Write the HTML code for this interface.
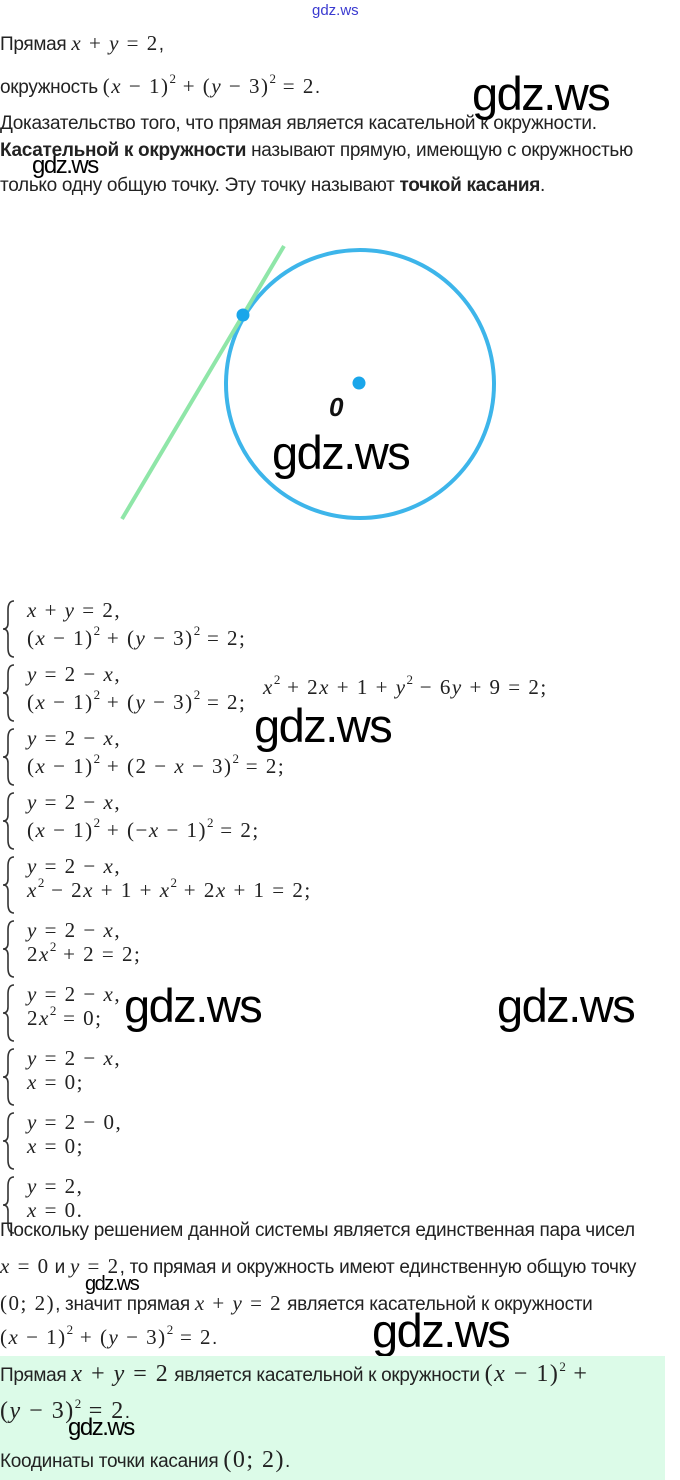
<!DOCTYPE html>
<html><head><meta charset="utf-8"><style>
body{margin:0;width:680px;height:1480px;position:relative;background:#fff;overflow:hidden;font-family:"Liberation Sans",sans-serif;color:#222}
.a{position:absolute;white-space:nowrap}
.t{font-size:19px;letter-spacing:-0.3px}
.m{font-family:"Liberation Serif",serif;font-size:21px;letter-spacing:1.5px}
.m i{font-style:italic}
sup{font-size:13px;vertical-align:10px;line-height:0;letter-spacing:0}
.w{position:absolute;font-family:"Liberation Sans",sans-serif;color:#000;white-space:nowrap;letter-spacing:-1.5px}
</style></head><body>
<div class="a" style="left:312px;top:2px;font-size:15px;color:#3a3ad0">gdz.ws</div>
<div class="a t" style="left:0;top:31px">Прямая <span class="m"><i>x</i> + <i>y</i> = 2</span>,</div>
<div class="a t" style="left:0;top:74px">окружность <span class="m">(<i>x</i> − 1)<sup>2</sup> + (<i>y</i> − 3)<sup>2</sup> = 2</span>.</div>
<div class="a t" style="left:0;top:113px">Доказательство того, что прямая является касательной к окружности.</div>
<div class="a t" style="left:0;top:140px"><b>Касательной к окружности</b> называют прямую, имеющую с окружностью</div>
<div class="a t" style="left:0;top:175px">только одну общую точку. Эту точку называют <b>точкой касания</b>.</div>
<div class="w" style="left:472px;top:66px;font-size:47px">gdz.ws</div>
<div class="w" style="left:32px;top:152px;font-size:24px">gdz.ws</div>

<svg class="a" style="left:0;top:0" width="680" height="540">
<circle cx="360" cy="384" r="134" fill="none" stroke="#3db5ea" stroke-width="4"/>
<line x1="122" y1="519" x2="284" y2="246" stroke="#8fe6a8" stroke-width="4"/>
<circle cx="243" cy="315" r="6.5" fill="#1aa6ea"/>
<circle cx="359" cy="383" r="6.5" fill="#1aa6ea"/>
<text x="329" y="416" font-family="Liberation Sans,sans-serif" font-style="italic" font-weight="bold" font-size="26" fill="#111">0</text>
</svg>
<div class="w" style="left:272px;top:425px;font-size:47px">gdz.ws</div>

<svg class="a" style="left:0;top:0" width="30" height="1240">
<g fill="none" stroke="#333" stroke-width="1.6">
<path d="M14 601 Q8 601 8 610 L8 623 Q8 629 3 629 Q8 629 8 635 L8 648 Q8 657 14 657"/>
<path d="M14 665 Q8 665 8 674 L8 687 Q8 693 3 693 Q8 693 8 699 L8 712 Q8 721 14 721"/>
<path d="M14 729 Q8 729 8 738 L8 751 Q8 757 3 757 Q8 757 8 763 L8 776 Q8 785 14 785"/>
<path d="M14 793 Q8 793 8 802 L8 815 Q8 821 3 821 Q8 821 8 827 L8 840 Q8 849 14 849"/>
<path d="M14 857 Q8 857 8 866 L8 879 Q8 885 3 885 Q8 885 8 891 L8 904 Q8 913 14 913"/>
<path d="M14 921 Q8 921 8 930 L8 943 Q8 949 3 949 Q8 949 8 955 L8 968 Q8 977 14 977"/>
<path d="M14 985 Q8 985 8 994 L8 1007 Q8 1013 3 1013 Q8 1013 8 1019 L8 1032 Q8 1041 14 1041"/>
<path d="M14 1049 Q8 1049 8 1058 L8 1071 Q8 1077 3 1077 Q8 1077 8 1083 L8 1096 Q8 1105 14 1105"/>
<path d="M14 1113 Q8 1113 8 1122 L8 1135 Q8 1141 3 1141 Q8 1141 8 1147 L8 1160 Q8 1169 14 1169"/>
<path d="M14 1177 Q8 1177 8 1186 L8 1199 Q8 1205 3 1205 Q8 1205 8 1211 L8 1224 Q8 1233 14 1233"/>
</g></svg>
<div class="a m" style="left:27px;top:598px"><i>x</i> + <i>y</i> = 2,</div>
<div class="a m" style="left:27px;top:626px">(<i>x</i> − 1)<sup>2</sup> + (<i>y</i> − 3)<sup>2</sup> = 2;</div>
<div class="a m" style="left:27px;top:662px"><i>y</i> = 2 − <i>x</i>,</div>
<div class="a m" style="left:27px;top:690px">(<i>x</i> − 1)<sup>2</sup> + (<i>y</i> − 3)<sup>2</sup> = 2;</div>
<div class="a m" style="left:263px;top:675px"><i>x</i><sup>2</sup> + 2<i>x</i> + 1 + <i>y</i><sup>2</sup> − 6<i>y</i> + 9 = 2;</div>
<div class="a m" style="left:27px;top:726px"><i>y</i> = 2 − <i>x</i>,</div>
<div class="a m" style="left:27px;top:754px">(<i>x</i> − 1)<sup>2</sup> + (2 − <i>x</i> − 3)<sup>2</sup> = 2;</div>
<div class="a m" style="left:27px;top:790px"><i>y</i> = 2 − <i>x</i>,</div>
<div class="a m" style="left:27px;top:818px">(<i>x</i> − 1)<sup>2</sup> + (−<i>x</i> − 1)<sup>2</sup> = 2;</div>
<div class="a m" style="left:27px;top:854px"><i>y</i> = 2 − <i>x</i>,</div>
<div class="a m" style="left:27px;top:878px"><i>x</i><sup>2</sup> − 2<i>x</i> + 1 + <i>x</i><sup>2</sup> + 2<i>x</i> + 1 = 2;</div>
<div class="a m" style="left:27px;top:918px"><i>y</i> = 2 − <i>x</i>,</div>
<div class="a m" style="left:27px;top:942px">2<i>x</i><sup>2</sup> + 2 = 2;</div>
<div class="a m" style="left:27px;top:982px"><i>y</i> = 2 − <i>x</i>,</div>
<div class="a m" style="left:27px;top:1006px">2<i>x</i><sup>2</sup> = 0;</div>
<div class="a m" style="left:27px;top:1046px"><i>y</i> = 2 − <i>x</i>,</div>
<div class="a m" style="left:27px;top:1070px"><i>x</i> = 0;</div>
<div class="a m" style="left:27px;top:1110px"><i>y</i> = 2 − 0,</div>
<div class="a m" style="left:27px;top:1134px"><i>x</i> = 0;</div>
<div class="a m" style="left:27px;top:1174px"><i>y</i> = 2,</div>
<div class="a m" style="left:27px;top:1198px"><i>x</i> = 0.</div>
<div class="w" style="left:254px;top:698px;font-size:47px">gdz.ws</div>
<div class="w" style="left:124px;top:978px;font-size:47px">gdz.ws</div>
<div class="w" style="left:497px;top:978px;font-size:47px">gdz.ws</div>

<div class="a t" style="left:0;top:1220px">Поскольку решением данной системы является единственная пара чисел</div>
<div class="a t" style="left:0;top:1254px"><span class="m"><i>x</i> = 0</span> и <span class="m"><i>y</i> = 2</span>, то прямая и окружность имеют единственную общую точку</div>
<div class="a t" style="left:0;top:1291px"><span class="m">(0; 2)</span>, значит прямая <span class="m"><i>x</i> + <i>y</i> = 2</span> является касательной к окружности</div>
<div class="a t" style="left:0;top:1325px"><span class="m">(<i>x</i> − 1)<sup>2</sup> + (<i>y</i> − 3)<sup>2</sup> = 2</span>.</div>
<div class="w" style="left:85px;top:1273px;font-size:20px">gdz.ws</div>
<div class="w" style="left:372px;top:1303px;font-size:47px">gdz.ws</div>

<div class="a" style="left:0;top:1356px;width:665px;height:124px;background:#dcfbe8"></div>
<div class="a t" style="left:0;top:1361px">Прямая <span class="m" style="font-size:24px"><i>x</i> + <i>y</i> = 2</span> является касательной к окружности <span class="m" style="font-size:24px">(<i>x</i> − 1)<sup>2</sup> +</span></div>
<div class="a t" style="left:0;top:1398px"><span class="m" style="font-size:24px">(<i>y</i> − 3)<sup>2</sup> = 2</span>.</div>
<div class="w" style="left:68px;top:1414px;font-size:24px">gdz.ws</div>
<div class="a t" style="left:0;top:1447px">Коодинаты точки касания <span class="m" style="font-size:24px">(0; 2)</span>.</div>
</body></html>
